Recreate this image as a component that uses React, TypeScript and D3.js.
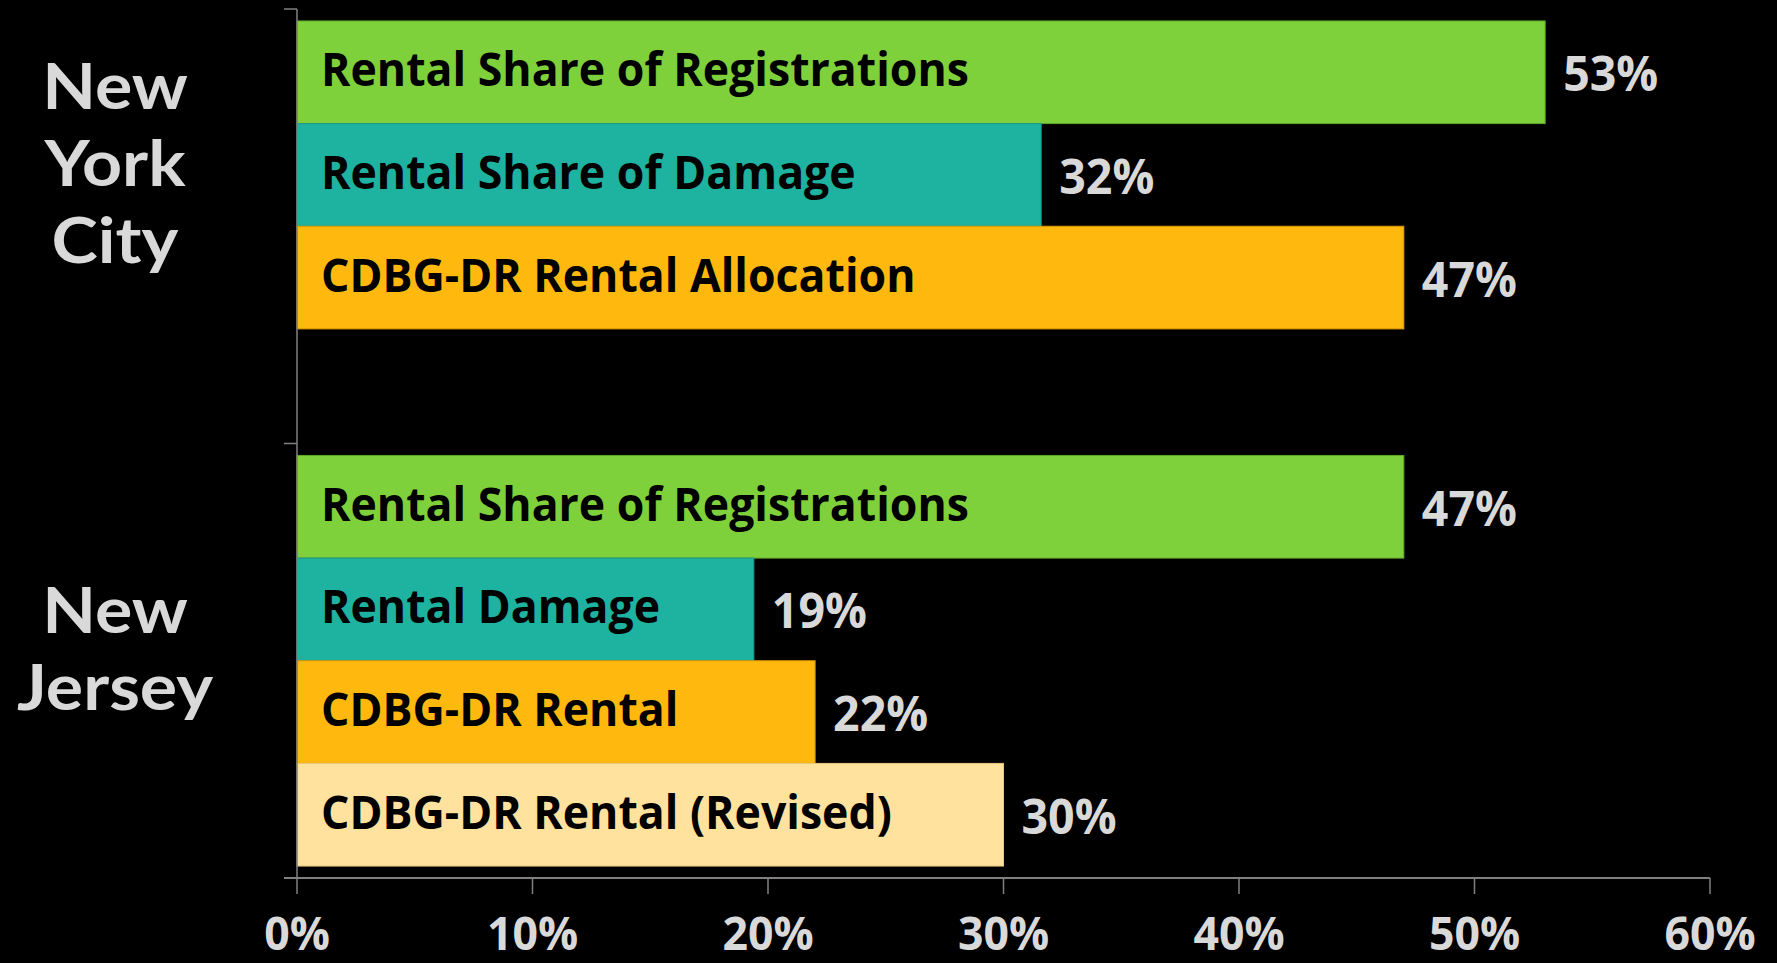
import React, { useMemo } from "react";
import * as d3 from "d3";

const groups = ["New York City", "New Jersey"];
const groupLines = [["New", "York", "City"], ["New", "Jersey"]];
const nycLabels = ["Rental Share of Registrations", "Rental Share of Damage", "CDBG-DR Rental Allocation"];
const nycValues = [0.53, 0.316, 0.47];
const njLabels = ["Rental Share of Registrations", "Rental Damage", "CDBG-DR Rental", "CDBG-DR Rental (Revised)"];
const njValues = [0.47, 0.194, 0.22, 0.30];
const slotColors = ["#7FD13B", "#1DB3A0", "#FFB80D", "#FFE29D"];
const slotStroke = ["#5FA82A", "#17998A", "#D99A08", "#E8C77E"];
const xTicks = [0, 0.1, 0.2, 0.3, 0.4, 0.5, 0.6];

const W = 1777;
const H = 963;
const FONT = "'Open Sans', Lato, sans-serif";
const CAT_FONT = "Lato, 'Open Sans', sans-serif";
const LIGHT = "#D9D9D9";
const AXIS = "#808080";
const REF_TEXT = "Rental Share of Registrations";
const REF_SIZE = 47;
const REF_WIDTH = 648;
const CAT_REF_TEXT = "Jersey";
const CAT_SIZE = 64;
const CAT_REF_WIDTH = 196;

function measureScale(font: string, size: number, text: string, target: number): number {
  try {
    const c = document.createElement("canvas");
    const ctx = c.getContext("2d");
    if (!ctx) return 1;
    ctx.font = `700 ${size}px ${font}`;
    const w = ctx.measureText(text).width;
    return w > 0 ? target / w : 1;
  } catch (e) {
    return 1;
  }
}

export default function App() {
  const sx = useMemo(() => measureScale(FONT, REF_SIZE, REF_TEXT, REF_WIDTH), []);
  const csx = useMemo(() => measureScale(CAT_FONT, CAT_SIZE, CAT_REF_TEXT, CAT_REF_WIDTH), []);

  const x = d3.scaleLinear().domain([0, 0.6]).range([297, 1710]);
  const yGroup = d3.scaleBand<string>().domain(groups).range([9, 878]).paddingInner(0.055).paddingOuter(0.0275);
  const ySlot = d3.scaleBand<number>().domain([0, 1, 2, 3]).range([0, yGroup.bandwidth()]);
  const fmt = d3.format(".0%");

  const series = [
    { labels: nycLabels, values: nycValues },
    { labels: njLabels, values: njValues },
  ];

  const txt = (key: string, tx: number, ty: number, s: string, size: number, fill: string, anchor: string) => (
    <text
      key={key}
      transform={`translate(${tx},${ty}) scale(${sx},1)`}
      fontFamily={FONT}
      fontWeight={700}
      fontSize={size}
      fill={fill}
      textAnchor={anchor}
    >
      {s}
    </text>
  );

  const y0 = yGroup.range()[0];
  const y1 = yGroup.range()[1];
  const boundaries = [y0, (yGroup(groups[1]) as number) - (yGroup.step() - yGroup.bandwidth()) / 2, y1];
  const LINE = 77;

  return (
    <svg width={W} height={H} style={{ position: "absolute", left: 0, top: 0, background: "#000" }}>
      <rect x={0} y={0} width={W} height={H} fill="#000" />
      {series.map((s, gi) => {
        const g0 = yGroup(groups[gi]) as number;
        const n = s.values.length;
        const barTop = g0 + (ySlot(0) as number);
        const barBot = g0 + (ySlot(n - 1) as number) + ySlot.bandwidth();
        const center = (barTop + barBot) / 2;
        const lines = groupLines[gi];
        const firstBase = center - ((lines.length - 1) / 2) * LINE + 11;
        return (
          <g key={groups[gi]}>
            {s.values.map((v, i) => {
              const yy = g0 + (ySlot(i) as number);
              const h = ySlot.bandwidth();
              return (
                <g key={i}>
                  <rect x={x(0)} y={yy} width={x(v) - x(0)} height={h} fill={slotColors[i]} stroke={slotStroke[i]} strokeWidth={1} />
                  {txt("l" + i, x(0) + 24, yy + h / 2 + 14, s.labels[i], REF_SIZE, "#000", "start")}
                  {txt("v" + i, x(v) + 18, yy + h / 2 + 19, fmt(v), 49, LIGHT, "start")}
                </g>
              );
            })}
            {lines.map((ln, li) => (
              <text
                key={"c" + li}
                transform={`translate(115,${firstBase + li * LINE}) scale(${csx},1)`}
                fontFamily={CAT_FONT}
                fontWeight={700}
                fontSize={CAT_SIZE}
                fill={LIGHT}
                textAnchor="middle"
              >
                {ln}
              </text>
            ))}
          </g>
        );
      })}
      <line x1={x(0)} x2={x(0)} y1={y0} y2={y1} stroke={AXIS} strokeWidth={1.5} />
      {boundaries.map((b, i) => (
        <line key={"yt" + i} x1={x(0) - 13} x2={x(0)} y1={b} y2={b} stroke={AXIS} strokeWidth={1.5} />
      ))}
      <line x1={x(0) - 13} x2={x(0.6)} y1={y1} y2={y1} stroke={AXIS} strokeWidth={2} />
      {xTicks.map((t) => (
        <g key={"xt" + t}>
          <line x1={x(t)} x2={x(t)} y1={y1} y2={y1 + 16} stroke={AXIS} strokeWidth={1.5} />
          {txt("xl" + t, x(t), 950, fmt(t), 47, LIGHT, "middle")}
        </g>
      ))}
    </svg>
  );
}
